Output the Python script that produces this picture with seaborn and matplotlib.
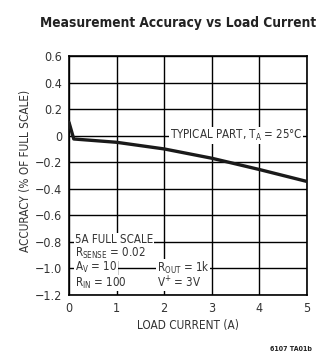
import matplotlib
matplotlib.use("Agg")
import matplotlib.pyplot as plt
import seaborn as sns
import pandas as pd

current = [0.0, 0.1, 1.0, 2.0, 3.0, 4.0, 5.0]
accuracy = [0.10, -0.025, -0.05, -0.10, -0.17, -0.255, -0.345]
xticks = [0, 1, 2, 3, 4, 5]
yticks = [0.6, 0.4, 0.2, 0, -0.2, -0.4, -0.6, -0.8, -1.0, -1.2]
ytick_labels = ["0.6", "0.4", "0.2", "0", "\u22120.2", "\u22120.4", "\u22120.6", "\u22120.8", "\u22121.0", "\u22121.2"]

sns.set_style("white")
plt.rcParams["font.family"] = ["DejaVu Sans"]
plt.rcParams["font.stretch"] = "condensed"
plt.rcParams["mathtext.fontset"] = "custom"
plt.rcParams["mathtext.rm"] = "DejaVu Sans:stretch=condensed"
plt.rcParams["mathtext.it"] = "DejaVu Sans:stretch=condensed"

df = pd.DataFrame({"current": current, "accuracy": accuracy})

fig = plt.figure(figsize=(3.34, 3.58), dpi=100)
ax = fig.add_axes([0.2066, 0.176, 0.7124, 0.6676])

sns.lineplot(data=df, x="current", y="accuracy", ax=ax, color="#1a1a1a", linewidth=2.4, zorder=4)

ax.set_xlim(0, 5)
ax.set_ylim(-1.2, 0.6)
ax.set_xticks(xticks)
ax.set_xticklabels([str(t) for t in xticks])
ax.set_yticks(yticks)
ax.set_yticklabels(ytick_labels)
ax.grid(True, color="black", linewidth=1.0)
ax.tick_params(axis="both", length=0, labelsize=9, colors="#333333", pad=5)
for s in ax.spines.values():
    s.set_color("black")
    s.set_linewidth(1.2)

ax.set_xlabel("LOAD CURRENT (A)", fontsize=8.5, color="#333333", labelpad=3)
ax.set_ylabel("ACCURACY (% OF FULL SCALE)", fontsize=8.5, color="#333333")
ax.yaxis.set_label_coords(-0.155, 0.52)

bbox = dict(facecolor="white", edgecolor="none", pad=0.5)
kw = dict(fontsize=8.3, va="center", ha="left", color="#333333", bbox=bbox, zorder=5)
ax.text(2.12, 0.0, r"TYPICAL PART, T$_{\mathrm{A}}$ = 25°C", **kw)

ax.text(0.12, -0.785, "5A FULL SCALE", **kw)
ax.text(0.12, -0.885, r"R$_{\mathrm{SENSE}}$ = 0.02", **kw)
ax.text(0.12, -0.995, r"A$_{\mathrm{V}}$ = 10", **kw)
ax.text(0.12, -1.11, r"R$_{\mathrm{IN}}$ = 100", **kw)
ax.text(1.85, -0.995, r"R$_{\mathrm{OUT}}$ = 1k", **kw)
ax.text(1.85, -1.11, r"V$^{+}$ = 3V", **kw)

fig.text(0.534, 0.936, "Measurement Accuracy vs Load Current", fontsize=9.8, fontweight="bold", ha="center", va="center", color="#222222")
fig.text(0.87, 0.025, "6107 TA01b", fontsize=5, fontweight="bold", ha="center", va="center", color="#222222")

fig.savefig("out.png", dpi=100)
